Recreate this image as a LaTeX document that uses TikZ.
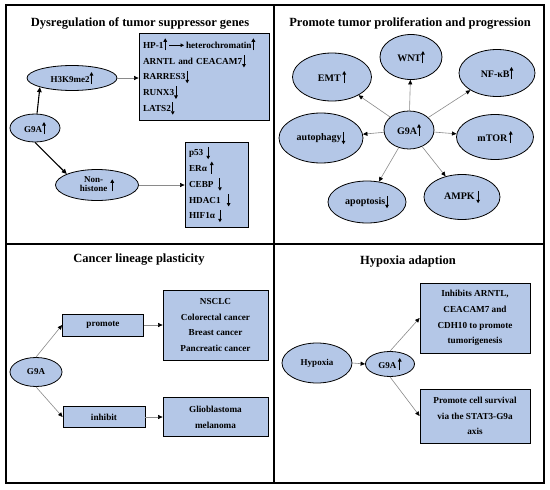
\documentclass[tikz,border=0pt]{standalone}
\usepackage{fontspec}
\setmainfont{Liberation Serif}
\usepackage{tikz}
\usetikzlibrary{arrows.meta,calc,positioning,shapes.geometric}
\definecolor{cellblue}{HTML}{B4C7E7}
\definecolor{linkgray}{HTML}{8A8A8A}
\newcommand{\upa}{\tikz[baseline=0pt]\draw[line width=0.9pt,-{Triangle[length=3.5pt,width=3.6pt]}] (0,-2pt)--(0,10pt);}
\newcommand{\dna}{\tikz[baseline=0pt]\draw[line width=0.9pt,-{Triangle[length=3.5pt,width=3.6pt]}] (0,9pt)--(0,-3.5pt);}
\newcommand{\rta}{\tikz[baseline=0pt]\draw[line width=0.9pt,-{Triangle[length=3.5pt,width=3.6pt]}] (0,3pt)--(15pt,3pt);}
\tikzset{
  panel/.style={draw=black,line width=1.6pt},
  title/.style={font=\fontsize{12.5}{14}\selectfont\bfseries},
  bubble/.style={ellipse,draw=black,fill=cellblue,line width=0.8pt,inner sep=0pt,font=\fontsize{9}{11}\selectfont\bfseries},
  bigbubble/.style={bubble,font=\fontsize{10}{12}\selectfont\bfseries},
  gbox/.style={rectangle,draw=black,fill=cellblue,line width=0.8pt,inner sep=0pt,font=\fontsize{9.2}{15.75}\selectfont\bfseries},
  link/.style={draw=linkgray,line width=0.6pt,-{Triangle[length=4.5pt,width=4pt,color=black]}},
  boldlink/.style={draw=black,line width=1.1pt,-{Triangle[length=5pt,width=4.5pt]}}
}
\begin{document}
\begin{tikzpicture}[x=1pt,y=-1pt]
\useasboundingbox (0,0) rectangle (550,490);
% frame and dividers
\draw[panel] (6,5) rectangle (544,483);
\draw[panel] (274,5)--(274,483);
\draw[panel] (6,244)--(544,244);

% ---- tumor suppressor genes
\node[title] at (140,23) {Dysregulation of tumor suppressor genes};
\node[bubble,minimum width=50,minimum height=28] (g9a1) at (35,128) {G9A\upa};
\node[bubble,minimum width=90,minimum height=25] (h3k) at (72,78) {H3K9me2\upa};
\node[bubble,minimum width=83,minimum height=31] (nonh) at (97,185)
  {\begin{tabular}{@{}c@{}}Non-\\[-2pt]histone\end{tabular}\,\,\raisebox{-2pt}{\upa}};
\node[gbox,minimum width=130,minimum height=87,text width=122,align=left] (hbox) at (204,76.5)
  {HP-1\upa\,\rta\,heterochromatin\upa\\ARNTL and CEACAM7\dna\\RARRES3\dna\\RUNX3\dna\\LATS2\dna};
\node[gbox,minimum width=63,minimum height=85,text width=55,align=left] (nbox) at (216.5,184.5)
  {p53\,\,\dna\\ERα\,\,\upa\\CEBP\,\,\,\dna\\HDAC1\,\,\,\,\dna\\HIF1α\,\,\dna};
\draw[boldlink] (g9a1.82) -- (h3k.south west);
\draw[boldlink] (g9a1.south) -- (nonh.160);
\draw[link] (h3k.east) -- (h3k.east -| hbox.west);
\draw[link] (nonh.east) -- (nonh.east -| nbox.west);

% ---- proliferation and progression
\node[title] at (410,23) {Promote tumor proliferation and progression};
\node[bigbubble,minimum width=50,minimum height=38] (g9a2) at (409,130) {G9A\upa};
\node[bigbubble,minimum width=79,minimum height=48] (emt) at (332,77) {EMT\,\upa};
\node[bigbubble,minimum width=62,minimum height=45] (wnt) at (411,57) {WNT\upa};
\node[bigbubble,minimum width=76,minimum height=47] (nfkb) at (497,73) {NF-κB\upa};
\node[bigbubble,minimum width=84,minimum height=50] (autop) at (321,138) {autophagy\dna};
\node[bigbubble,minimum width=77,minimum height=45] (mtor) at (495,137) {mTOR\,\upa};
\node[bigbubble,minimum width=78,minimum height=42] (apop) at (367,202) {apoptosis\dna};
\node[bigbubble,minimum width=76,minimum height=45] (ampk) at (462,197) {AMPK\,\dna};
\foreach \t in {emt,wnt,nfkb,autop,mtor,apop,ampk}
  \draw[link] (g9a2) -- (\t);

% ---- lineage plasticity
\node[title] at (139,260) {Cancer lineage plasticity};
\node[bubble,minimum width=52,minimum height=29] (g9a3) at (36,372) {G9A};
\node[gbox,minimum width=81,minimum height=22] (prom) at (103,325) {promote};
\node[gbox,minimum width=82,minimum height=21] (inh) at (104,417) {inhibit};
\node[gbox,minimum width=105,minimum height=70,align=center] (nscl) at (215.5,325)
  {NSCLC\\Colorectal cancer\\Breast cancer\\Pancreatic cancer};
\node[gbox,minimum width=105,minimum height=39,align=center] (glio) at (215.5,417)
  {Glioblastoma\\melanoma};
\draw[link] (g9a3.north) -- (prom.west);
\draw[link] (g9a3.south) -- (inh.west);
\draw[link] (prom.east) -- (nscl.west);
\draw[link] (inh.east) -- (glio.west);

% ---- hypoxia
\node[title] at (408,262) {Hypoxia adaption};
\node[bubble,minimum width=70,minimum height=40] (hyp) at (317,363) {Hypoxia};
\node[bubble,minimum width=49,minimum height=25] (g9a4) at (390,364) {G9A\,\upa};
\node[gbox,minimum width=110,minimum height=70,align=center] (inbox) at (475,318)
  {Inhibits ARNTL,\\CEACAM7 and\\CDH10 to promote\\tumorigenesis};
\node[gbox,minimum width=110,minimum height=54,align=center] (svbox) at (475,416)
  {Promote cell survival\\via the STAT3-G9a\\axis};
\draw[link] (hyp.east) -- (g9a4.west);
\draw[link] (g9a4.north) -- (inbox.west);
\draw[link] (g9a4.south) -- (svbox.west);
\end{tikzpicture}
\end{document}
